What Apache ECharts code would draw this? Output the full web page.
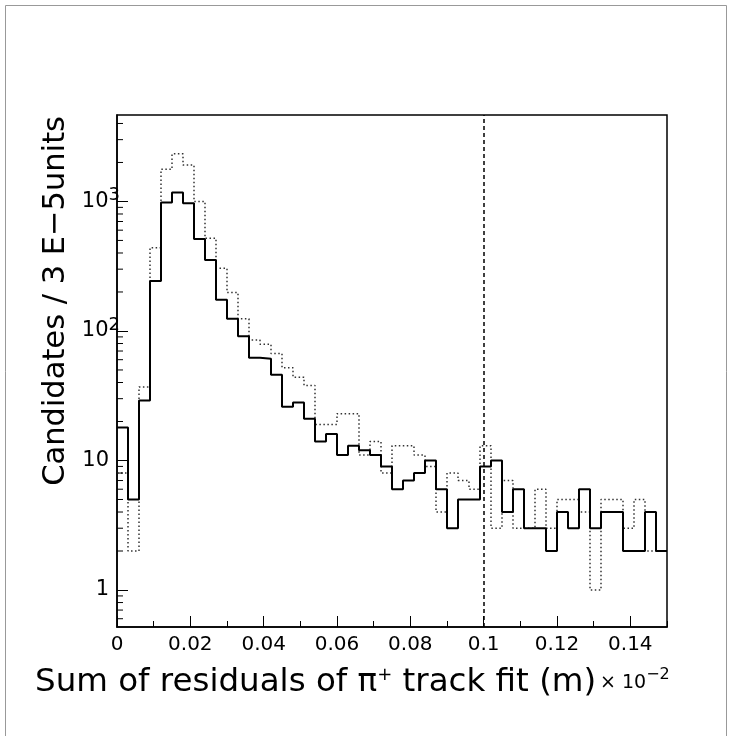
<!DOCTYPE html>
<html>
<head>
<meta charset="utf-8">
<script src="https://cdn.jsdelivr.net/npm/echarts@6/dist/echarts.min.js"></script>
<style>html,body{margin:0;padding:0;background:#fff}#c{width:730px;height:736px}</style>
</head>
<body>
<div id="c"></div>
<script>
// Bin lower edges (bin width 0.003), x range 0..0.15
const binLow = [0,0.003,0.006,0.009,0.012,0.015,0.018,0.021,0.024,0.027,
  0.03,0.033,0.036,0.039,0.042,0.045,0.048,0.051,0.054,0.057,
  0.06,0.063,0.066,0.069,0.072,0.075,0.078,0.081,0.084,0.087,
  0.09,0.093,0.096,0.099,0.102,0.105,0.108,0.111,0.114,0.117,
  0.12,0.123,0.126,0.129,0.132,0.135,0.138,0.141,0.144,0.147];
const xEnd = 0.15;
// Solid histogram
const solidCounts = [18,5,29,243,980,1170,970,513,353,174,
  124,91,62,61,46,26,28,21,14,16,
  11,13,12,11,9,6,7,8,10,6,
  3,5,5,9,10,4,6,3,3,2,
  4,3,6,3,4,4,2,2,4,2];
// Dotted histogram
const dottedCounts = [8,2,37,440,1770,2330,1910,1000,520,305,
  198,124,85,79,67,52,44,38,19,19,
  23,23,11,14,8,13,13,11,9,4,
  8,7,6,13,3,7,3,3,6,3,
  5,5,4,1,5,5,3,5,2,2];
const cutValue = 0.1;
const yMinorTicks = [0.6,0.7,0.8,0.9,2,3,4,5,6,7,8,9,20,30,40,50,60,70,80,90,
  200,300,400,500,600,700,800,900,2000,3000,4000];
const yMin = 0.518, yMax = 4650;

function stepData(counts){
  const d = binLow.map((x,i)=>[x, counts[i]]);
  d.push([xEnd, counts[counts.length-1]]);
  return d;
}
const FONT = 'DejaVu Sans';
const chart = echarts.init(document.getElementById('c'), null, {renderer:'canvas'});
chart.setOption({
  animation:false,
  backgroundColor:'#fff',
  grid:{left:117, top:115, width:550, height:512, show:true, borderColor:'#000', borderWidth:1.5, backgroundColor:'transparent'},
  xAxis:[{
    type:'value', min:0, max:xEnd, interval:0.02, position:'bottom',
    axisLine:{show:true, onZero:false, lineStyle:{color:'#000', width:1.5}},
    axisTick:{show:true, inside:true, length:11, lineStyle:{color:'#000', width:1}},
    axisLabel:{show:true, showMaxLabel:false, color:'#000', fontFamily:FONT, fontSize:20, margin:8},
    splitLine:{show:false}
  },{
    type:'value', min:0, max:xEnd, interval:0.01, position:'bottom',
    axisLine:{show:false, onZero:false},
    axisTick:{show:true, inside:true, length:6, lineStyle:{color:'#000', width:1}},
    axisLabel:{show:false},
    splitLine:{show:false}
  }],
  yAxis:{
    type:'log', logBase:10, min:yMin, max:yMax,
    axisLine:{show:true, lineStyle:{color:'#000', width:1.5}},
    axisTick:{show:true, inside:true, length:11, lineStyle:{color:'#000', width:1}},
    axisLabel:{
      show:true, showMinLabel:false, showMaxLabel:false, color:'#000', fontFamily:FONT, fontSize:21, margin:-3,
      formatter:function(v){
        const e = Math.round(Math.log10(v));
        if (Math.abs(Math.log10(v)-e) > 1e-6) return '';
        if (e === 0) return '1{p|}';
        if (e === 1) return '10{p|}';
        return '10{s|' + e + '}';
      },
      rich:{
        s:{fontSize:18, fontFamily:FONT, color:'#000', padding:[0,0,12,0]},
        p:{width:11}
      }
    },
    splitLine:{show:false}
  },
  series:[
    {
      type:'line', step:'end', data:stepData(dottedCounts), symbol:'none',
      lineStyle:{color:'#333', width:1.5, type:[1.5,2.5]}, z:2
    },
    {
      type:'line', step:'end', data:stepData(solidCounts), symbol:'none',
      lineStyle:{color:'#000', width:2}, z:3,
      markLine:{silent:true, symbol:'none', label:{show:false},
        lineStyle:{color:'#000', width:1.5, type:[4,3]},
        data:[{xAxis:cutValue}]}
    },
    {
      type:'custom', silent:true, z:4,
      data:yMinorTicks.map(v=>[0,v]),
      renderItem:function(params, api){
        const p = api.coord([0, api.value(1)]);
        return {type:'line', shape:{x1:p[0], y1:p[1], x2:p[0]+6, y2:p[1]}, style:{stroke:'#000', lineWidth:1}};
      }
    }
  ],
  graphic:[
    {type:'rect', silent:true, shape:{x:5.5, y:5.5, width:721, height:740}, style:{fill:'none', stroke:'#999', lineWidth:1}},
    {type:'text', silent:true, x:56, y:116, rotation:Math.PI/2,
      style:{text:'Candidates / 3 E\u22125units', font:'30.5px "DejaVu Sans"', fill:'#000', align:'right', verticalAlign:'middle'}},
    {type:'text', silent:true, x:35, y:683,
      style:{text:'Sum of residuals of \u03c0{s|+} track fit (m)', font:'32.5px "DejaVu Sans"', fill:'#000', align:'left', verticalAlign:'middle',
        rich:{s:{fontSize:18, fontFamily:FONT, padding:[0,0,16,0]}}}},
    {type:'text', silent:true, x:600, y:683,
      style:{text:'\u00d7 10{s|\u22122}', font:'19px "DejaVu Sans"', fill:'#000', align:'left', verticalAlign:'middle',
        rich:{s:{fontSize:16, fontFamily:FONT, padding:[0,0,16,0]}}}}
  ]
});
</script>
</body>
</html>
